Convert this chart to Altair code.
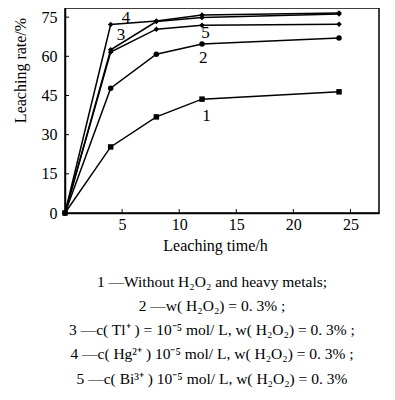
import altair as alt
import pandas as pd

times = [0, 4, 8, 12, 24]
s1 = [0, 25.3, 36.8, 43.6, 46.4]
s2 = [0, 47.8, 60.8, 64.7, 67.0]
s3 = [0, 62.5, 73.3, 74.9, 76.2]
s4 = [0, 72.2, 73.5, 75.8, 76.6]
s5 = [0, 61.6, 70.4, 71.9, 72.3]
series_names = ["1", "2", "3", "4", "5"]
series_shapes = ["square", "circle", "diamond", "diamond", "diamond"]

label_text = ["1", "2", "3", "4", "5"]
label_x = [12.4, 12.1, 4.9, 5.35, 12.3]
label_y = [37.3, 59.3, 68.0, 74.8, 68.9]

x_ticks = [5, 10, 15, 20, 25]
y_ticks = [0, 15, 30, 45, 60, 75]

caption = [
    "1 \u2014Without H\u2082O\u2082 and heavy metals;",
    "2 \u2014w( H\u2082O\u2082) = 0. 3% ;",
    "3 \u2014c( Tl\u207a ) = 10\u207b\u2075 mol/ L,  w( H\u2082O\u2082) = 0. 3% ;",
    "4 \u2014c( Hg\u00b2\u207a ) 10\u207b\u2075 mol/ L,  w( H\u2082O\u2082) = 0. 3% ;",
    "5 \u2014c( Bi\u00b3\u207a ) 10\u207b\u2075 mol/ L,  w( H\u2082O\u2082) = 0. 3%",
]
caption_y = [274, 298, 322, 346, 371]

W, H = 314, 205
XMAX, YMAX = 27.5, 78.5
FONT = "Liberation Serif"

rows = []
for name, vals in zip(series_names, [s1, s2, s3, s4, s5]):
    for t, v in zip(times, vals):
        rows.append({"t": t, "v": v, "s": name})
df = pd.DataFrame(rows)

xs = alt.Scale(domain=[0, XMAX], nice=False)
ys = alt.Scale(domain=[0, YMAX], nice=False)

base = alt.Chart(df)
lines = base.mark_line(color="black", strokeWidth=1.5).encode(
    x=alt.X("t:Q", scale=xs, axis=alt.Axis(
        values=x_ticks, ticks=False, grid=False, domainColor="black", domainWidth=1.5,
        labelFont=FONT, labelFontSize=16, labelColor="black", labelPadding=3,
        title="Leaching time/h", titleFont=FONT, titleFontSize=16, titleFontWeight="normal",
        titleColor="black", titleX=150, titleY=32, titleAnchor="middle", titleBaseline="middle")),
    y=alt.Y("v:Q", scale=ys, axis=alt.Axis(
        values=y_ticks, ticks=False, grid=False, domainColor="black", domainWidth=1.5,
        labelFont=FONT, labelFontSize=16, labelColor="black", labelPadding=8,
        title="Leaching rate/%", titleFont=FONT, titleFontSize=16, titleFontWeight="normal",
        titleColor="black", titleX=-45, titleY=62, titleAngle=-90, titleBaseline="middle",
        titleAlign="center")),
    detail="s:N",
)
points = base.mark_point(filled=True, color="black", size=30, opacity=1).encode(
    x=alt.X("t:Q", scale=xs),
    y=alt.Y("v:Q", scale=ys),
    shape=alt.Shape("s:N", scale=alt.Scale(domain=series_names, range=series_shapes), legend=None),
)

lab_df = pd.DataFrame({"x": label_x, "y": label_y, "t": label_text})
labels = alt.Chart(lab_df).mark_text(font=FONT, fontSize=17, color="black").encode(
    x=alt.X("x:Q", scale=xs), y=alt.Y("y:Q", scale=ys), text="t:N")

xt = pd.DataFrame({"x": x_ticks, "y0": [0] * len(x_ticks), "y1": [1.5] * len(x_ticks)})
xtick = alt.Chart(xt).mark_rule(color="black", strokeWidth=1).encode(
    x=alt.X("x:Q", scale=xs), y=alt.Y("y0:Q", scale=ys), y2="y1:Q")
yt = pd.DataFrame({"y": y_ticks[1:], "x0": [0] * 5, "x1": [0.35] * 5})
ytick = alt.Chart(yt).mark_rule(color="black", strokeWidth=1).encode(
    y=alt.Y("y:Q", scale=ys), x=alt.X("x0:Q", scale=xs), x2="x1:Q")

cap_df = pd.DataFrame({"t": caption, "y": caption_y})
cap = alt.Chart(cap_df).mark_text(font=FONT, fontSize=15.5, color="black", align="center",
                                  baseline="middle").encode(
    x=alt.value(147), y=alt.Y("y:Q", scale=None), text="t:N")

chart = alt.layer(lines, points, labels, xtick, ytick, cap).properties(
    width=W, height=H,
    autosize=alt.AutoSizeParams(type="none"),
    padding={"left": 57, "top": 0, "right": 8, "bottom": 175},
    background="white",
).configure_view(stroke="black", strokeWidth=1.5)

chart.save("out.html", embed_options={"renderer": "svg", "actions": False})
